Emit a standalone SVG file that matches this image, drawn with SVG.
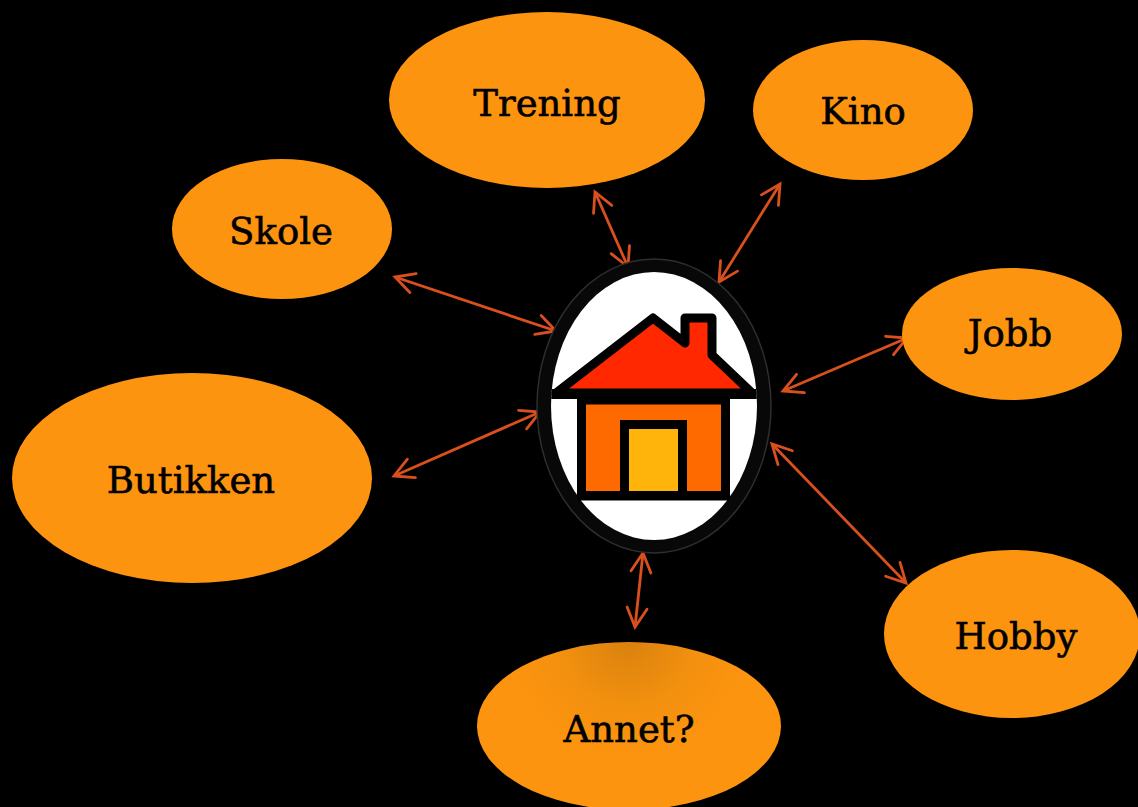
<svg xmlns="http://www.w3.org/2000/svg" width="1138" height="807" viewBox="0 0 1138 807">
<style>
.node{fill:#FD940F}
.lbl{font-family:"DejaVu Serif","Liberation Serif",serif;font-size:37px;fill:#000;stroke:#000;stroke-width:0.6;text-anchor:middle}
.con{stroke:#D9501E;stroke-width:2.8;fill:none;marker-start:url(#ah);marker-end:url(#ah)}
</style>
<defs>
<marker id="ah" markerUnits="userSpaceOnUse" viewBox="-24 -14 28 28" markerWidth="28" markerHeight="28" refX="0" refY="0" orient="auto-start-reverse">
<path d="M-19,-10 L0,0 L-19,10" fill="none" stroke="#D9501E" stroke-width="2.8" stroke-linecap="round" stroke-linejoin="miter"/>
</marker>
<radialGradient id="annetG" gradientUnits="userSpaceOnUse" cx="628" cy="640" r="120" fx="628" fy="640">
<stop offset="0" stop-color="#D9810E"/>
<stop offset="0.55" stop-color="#F2900F"/>
<stop offset="1" stop-color="#FD940F"/>
</radialGradient>
<clipPath id="inner"><ellipse cx="654" cy="406" rx="103" ry="134"/></clipPath>
</defs>
<rect x="0" y="0" width="1138" height="807" fill="#000"/>
<g id="connectors">
<line class="con" x1="395" y1="277" x2="556" y2="331"/>
<line class="con" x1="595" y1="192" x2="628" y2="267"/>
<line class="con" x1="780" y1="184" x2="719" y2="282"/>
<line class="con" x1="907" y1="338" x2="783" y2="391"/>
<line class="con" x1="394" y1="476" x2="540" y2="412"/>
<line class="con" x1="772" y1="444" x2="906" y2="583"/>
<line class="con" x1="643" y1="553" x2="635" y2="627"/>
</g>
<g id="trening"><ellipse class="node" cx="547" cy="100" rx="158" ry="88"/><text class="lbl" x="547" y="116">Trening</text></g>
<g id="kino"><ellipse class="node" cx="863" cy="110" rx="110" ry="70"/><text class="lbl" x="863" y="124">Kino</text></g>
<g id="skole"><ellipse class="node" cx="282" cy="229" rx="110" ry="70"/><text class="lbl" x="281" y="244">Skole</text></g>
<g id="jobb"><ellipse class="node" cx="1012" cy="334" rx="110" ry="66"/><text class="lbl" x="1010" y="346">Jobb</text></g>
<g id="butikken"><ellipse class="node" cx="192" cy="478" rx="180" ry="105"/><text class="lbl" x="191" y="493">Butikken</text></g>
<g id="hobby"><ellipse class="node" cx="1012" cy="634" rx="128" ry="84"/><text class="lbl" x="1016" y="649">Hobby</text></g>
<g id="annet"><ellipse cx="629" cy="726" rx="152" ry="84" fill="url(#annetG)"/><text class="lbl" x="629" y="742">Annet?</text></g>
<g id="home">
<ellipse cx="654" cy="406" rx="117" ry="147" fill="#080808" stroke="#2e2e2e" stroke-width="1.5"/>
<ellipse cx="654" cy="406" rx="103" ry="134" fill="#fff"/>
<g clip-path="url(#inner)">
<rect x="540" y="389" width="230" height="10" fill="#000"/>
</g>
<path d="M556,393 L653,318 L685,343 L685,318 L712,318 L712,355 L752,393 Z" fill="#FF2800" stroke="#000" stroke-width="9" stroke-linejoin="round"/>
<rect x="581.5" y="400" width="144" height="96" fill="#FF6A00" stroke="#000" stroke-width="9"/>
<rect x="624.5" y="424.5" width="58" height="71" fill="#FFB40C" stroke="#000" stroke-width="9"/>
<rect x="577" y="491" width="153" height="9" fill="#000"/>
</g>
</svg>
